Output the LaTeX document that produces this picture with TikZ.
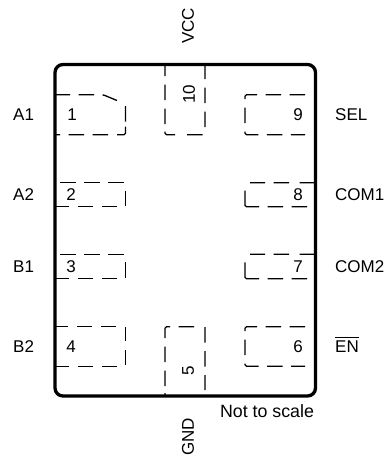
\documentclass[tikz,border=0pt]{standalone}
\usepackage{fontspec}
\setmainfont{Liberation Sans}
\definecolor{packageBlack}{HTML}{000000}
\tikzset{
  packageEdge/.style={line width=3.3pt, packageBlack, rounded corners=8pt},
  padEdge/.style={line width=1.3pt, packageBlack, rounded corners=1.5pt, dash pattern=on 15.5pt off 8.5pt},
  pinText/.style={anchor=west, inner sep=0pt, font=\fontsize{17}{19}\selectfont},
  numText/.style={inner sep=0pt, font=\fontsize{17}{19}\selectfont},
  numTurned/.style={numText, rotate=90}
}
\begin{document}
\begin{tikzpicture}[x=1pt, y=-1pt]
    \useasboundingbox (0,0) rectangle (386,458);

    \draw[packageEdge] (55,64.5) rectangle (315.5,396);

    % left pads
    \draw[padEdge] (117,100.5) -- (103,94.7) -- (55,94.7)
      (125.5,121.7) -- (125.5,104)
      (125.5,126.7) -- (125.5,134.7) -- (115,134.7)
      (108,134.7) -- (55,134.7);
    \draw[padEdge] (60,182.7) -- (124,182.7)
      (125.5,190.7) -- (125.5,206.2)
      (117,206.7) -- (55,206.7);
    \draw[padEdge] (60,254.3) -- (124,254.3)
      (125.5,262.3) -- (125.5,278.2)
      (117,278.7) -- (55,278.7);
    \draw[padEdge] (116,326.7) -- (55,326.7)
      (125.5,365.3) -- (125.5,326.7)
      (117,366.3) -- (55,366.3);

    % right pads
    \draw[padEdge] (305,94.7) -- (245,94.7) -- (245,134.7) -- (305,134.7);
    \draw[padEdge] (315,182.7) -- (297.5,182.7) (289,182.7) -- (250,182.7)
      (307,206.7) -- (245,206.7) -- (245,198)
      (245,190.7) -- (245,206);
    \draw[padEdge] (315,254.3) -- (297.5,254.3) (289,254.3) -- (250,254.3)
      (307,278.7) -- (245,278.7) -- (245,270)
      (245,262.3) -- (245,278);
    \draw[padEdge] (305,326.7) -- (245,326.7) -- (245,366.3) -- (305,366.3);

    % top and bottom pads
    \draw[padEdge] (165,124) -- (165,65)
      (165,131.7) -- (165,134.7) -- (175,134.7)
      (187,134.7) -- (203,134.7)
      (205,127) -- (205,66);
    \draw[padEdge] (165,386) -- (165,326.7) -- (195,326.7)
      (165,393) -- (165,396)
      (205,327) -- (205,390);

    \node[numText] (numOne) at (72,115) {1};
    \node[numText] (numTwo) at (71,195) {2};
    \node[numText] (numThree) at (71,267) {3};
    \node[numText] (numFour) at (71,347) {4};
    \node[numTurned] (numFive) at (188,371) {5};
    \node[numText] (numSix) at (298,347) {6};
    \node[numText] (numSeven) at (298,267) {7};
    \node[numText] (numEight) at (298,195) {8};
    \node[numText] (numNine) at (298,115) {9};
    \node[numTurned] (numTen) at (189,94) {10};

    \node[pinText] (pinAOne) at (13,115) {A1};
    \node[pinText] (pinATwo) at (13,195) {A2};
    \node[pinText] (pinBOne) at (13,267) {B1};
    \node[pinText] (pinBTwo) at (13,347) {B2};
    \node[pinText] (pinSel) at (335,115) {SEL};
    \node[pinText] (pinComOne) at (335,195) {COM1};
    \node[pinText] (pinComTwo) at (335,267) {COM2};
    \node[pinText] (pinEn) at (335,345) {\vbox{\hrule height 1pt \kern 2.5pt \hbox{EN}}};
    \node[numTurned] (pinVcc) at (188,26) {VCC};
    \node[numTurned] (pinGnd) at (188,437) {GND};

    \node[numText, font=\fontsize{17.8}{20}\selectfont] (scaleNote) at (267,411) {Not to scale};
\end{tikzpicture}
\end{document}
